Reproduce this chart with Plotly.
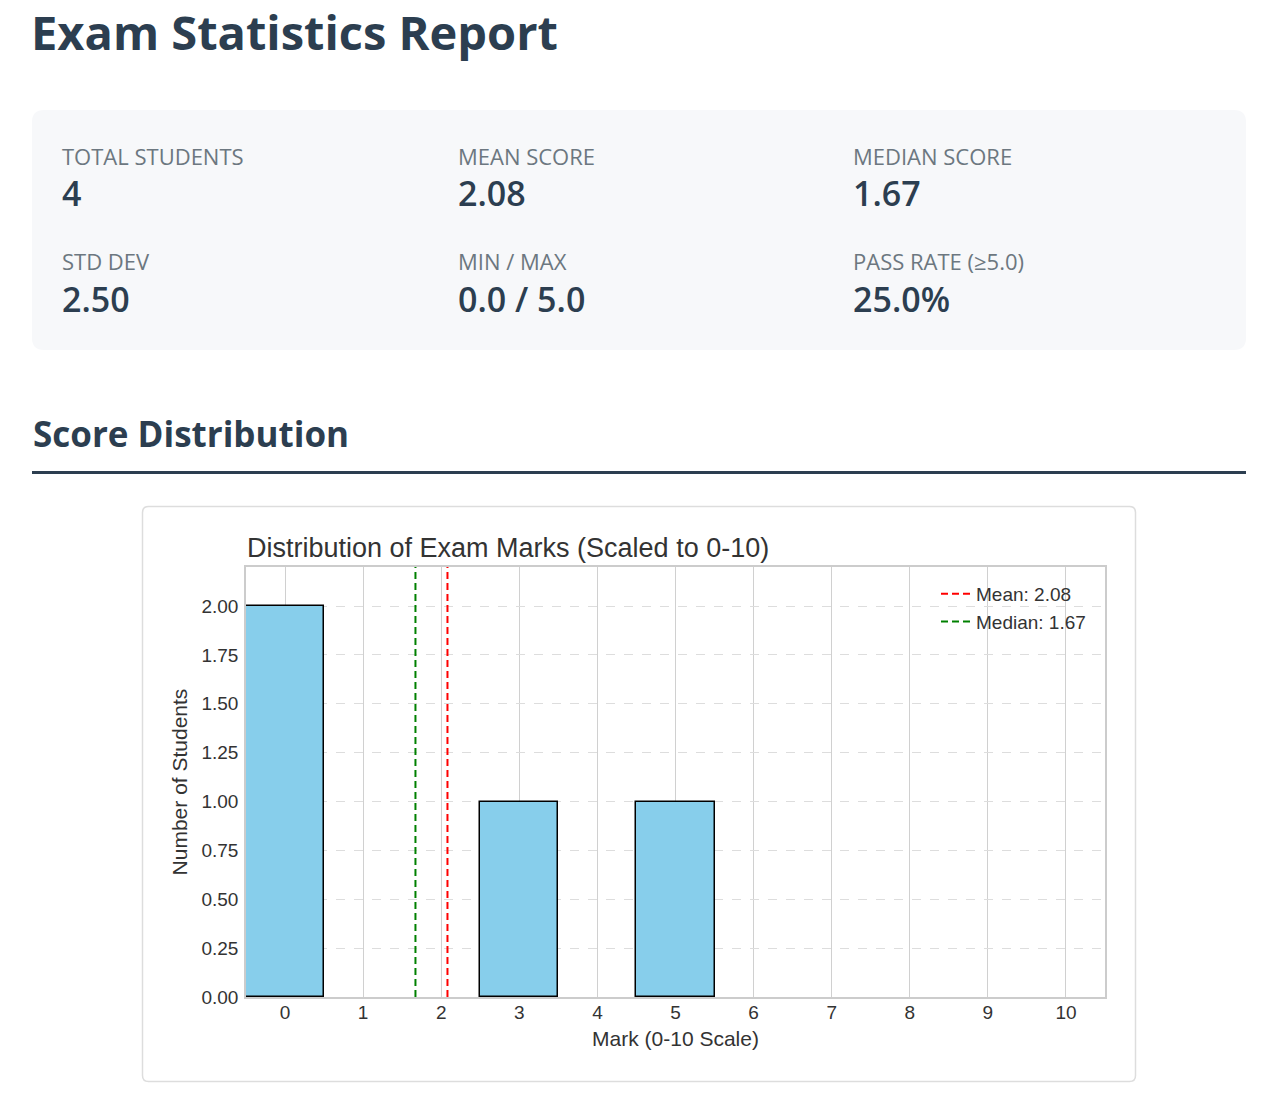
import plotly.graph_objects as go

W, H = 1261, 1103

# ---------------- data ----------------
page_title = "Exam Statistics Report"
section_title = "Score Distribution"
stat_labels = ["TOTAL STUDENTS", "MEAN SCORE", "MEDIAN SCORE",
               "STD DEV", "MIN / MAX", "PASS RATE (≥5.0)"]
stat_values = ["4", "2.08", "1.67", "2.50", "0.0 / 5.0", "25.0%"]

marks = [0, 1, 2, 3, 4, 5, 6, 7, 8, 9, 10]
counts = [2, 0, 0, 1, 0, 1, 0, 0, 0, 0, 0]
mean_score = 2.08
median_score = 1.67
chart_title = "Distribution of Exam Marks (Scaled to 0-10)"
x_title = "Mark (0-10 Scale)"
y_title = "Number of Students"
y_ticks = [0, 0.25, 0.5, 0.75, 1.0, 1.25, 1.5, 1.75, 2.0]


def X(px):
    return px / W


def Y(py):
    return 1 - py / H


def rrect(x0, y0, x1, y1, r):
    return (f"M {X(x0 + r)},{Y(y0)} L {X(x1 - r)},{Y(y0)} "
            f"Q {X(x1)},{Y(y0)} {X(x1)},{Y(y0 + r)} L {X(x1)},{Y(y1 - r)} "
            f"Q {X(x1)},{Y(y1)} {X(x1 - r)},{Y(y1)} L {X(x0 + r)},{Y(y1)} "
            f"Q {X(x0)},{Y(y1)} {X(x0)},{Y(y1 - r)} L {X(x0)},{Y(y0 + r)} "
            f"Q {X(x0)},{Y(y0)} {X(x0 + r)},{Y(y0)} Z")


HEAD = "Open Sans"
CHART = "Liberation Sans, Arial, sans-serif"
DARK = "#2c3e50"
GREY = "#6c7780"
TXT = "#333333"

fig = go.Figure()

# empty bins are not drawn (no outline at the baseline)
fig.add_trace(go.Bar(
    x=marks, y=[c if c > 0 else None for c in counts], width=1,
    marker=dict(color="#87ceeb", line=dict(color="black", width=1.5)),
    showlegend=False, hoverinfo="x+y",
))
fig.add_trace(go.Scatter(
    x=[mean_score, mean_score], y=[0, 2.2], mode="lines",
    line=dict(color="#ff0000", width=2, dash="7px,4px"),
    name=f"Mean: {mean_score:.2f}",
))
fig.add_trace(go.Scatter(
    x=[median_score, median_score], y=[0, 2.2], mode="lines",
    line=dict(color="#008000", width=2, dash="7px,4px"),
    name=f"Median: {median_score:.2f}",
))

shapes = [
    dict(type="path", path=rrect(32, 110, 1246, 350, 12), xref="paper", yref="paper",
         fillcolor="#f7f8fa", line=dict(width=0), layer="below"),
    dict(type="line", x0=X(32), x1=X(1246), y0=Y(472.5), y1=Y(472.5), xref="paper", yref="paper",
         line=dict(color=DARK, width=3), layer="below"),
    dict(type="path", path=rrect(142.5, 506.5, 1135.5, 1081.5, 6), xref="paper", yref="paper",
         fillcolor="white", line=dict(color="#dddddd", width=1.5), layer="below"),
]

annotations = [
    dict(text=f"<b>{page_title}</b>", x=X(29), y=Y(32), xanchor="left", yanchor="middle",
         font=dict(family=HEAD, size=47, color=DARK)),
    dict(text=f"<b>{section_title}</b>", x=X(31), y=Y(433), xanchor="left", yanchor="middle",
         font=dict(family=HEAD, size=35, color=DARK)),
    dict(text=chart_title, x=X(245), y=Y(548), xanchor="left", yanchor="middle",
         font=dict(family=CHART, size=27, color=TXT)),
]

col_x = [60, 456, 851]
row_label_y = [156, 261]
row_value_y = [193, 299]
for i, (lab, val) in enumerate(zip(stat_labels, stat_values)):
    r, c = divmod(i, 3)
    annotations.append(dict(text=lab, x=X(col_x[c]), y=Y(row_label_y[r]), xanchor="left",
                            yanchor="middle", font=dict(family=HEAD, size=22, color=GREY)))
    annotations.append(dict(text=val, x=X(col_x[c]), y=Y(row_value_y[r]), xanchor="left",
                            yanchor="middle", font=dict(family=HEAD, size=34, color=DARK, weight=600)))

for a in annotations:
    a.update(xref="paper", yref="paper", showarrow=False)

fig.update_layout(
    width=W, height=H,
    margin=dict(l=0, r=0, t=0, b=0),
    paper_bgcolor="white", plot_bgcolor="white",
    shapes=shapes, annotations=annotations,
    bargap=0,
    showlegend=True,
    legend=dict(x=X(936), y=Y(575), xanchor="left", yanchor="top",
                bgcolor="rgba(0,0,0,0)", borderwidth=0,
                font=dict(family=CHART, size=19, color=TXT)),
    xaxis=dict(
        domain=[X(246), X(1105)], range=[-0.5, 10.5],
        tickmode="array", tickvals=marks, ticktext=[str(m) for m in marks],
        showgrid=True, gridcolor="#d0d0d0", gridwidth=1.3,
        showline=True, mirror=True, linecolor="#cccccc", linewidth=1.5,
        zeroline=False, ticks="", ticklabelstandoff=-3,
        tickfont=dict(family=CHART, size=19, color=TXT),
        title=dict(text=x_title, font=dict(family=CHART, size=21, color=TXT), standoff=10),
        automargin=False, fixedrange=True,
    ),
    yaxis=dict(
        domain=[Y(997), Y(567)], range=[0, 2.2],
        tickmode="array", tickvals=y_ticks, ticktext=[f"{v:.2f}" for v in y_ticks],
        showgrid=True, gridcolor="#dddddd", gridwidth=1.2, griddash="dash",
        showline=True, mirror=True, linecolor="#cccccc", linewidth=1.5,
        zeroline=False, ticks="", ticklabelstandoff=2,
        tickfont=dict(family=CHART, size=19, color=TXT),
        title=dict(text=y_title, font=dict(family=CHART, size=21, color=TXT), standoff=8),
        automargin=False, fixedrange=True,
    ),
)

fig.write_html("out.html")
